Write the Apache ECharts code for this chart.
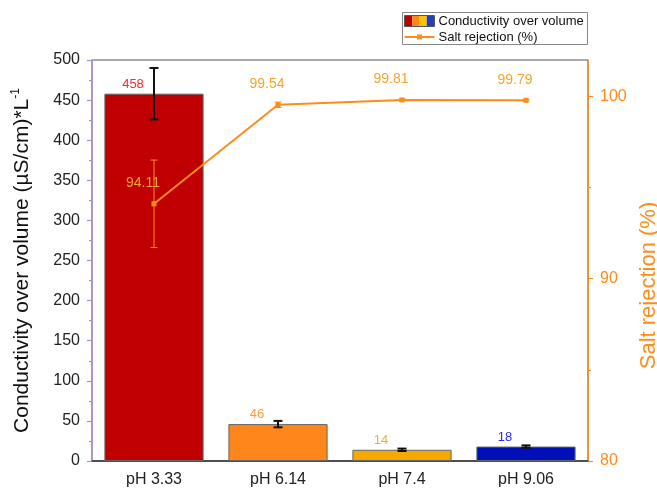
<!DOCTYPE html>
<html>
<head>
<meta charset="utf-8">
<style>
  html, body { margin: 0; padding: 0; background: #fff; }
  #chart { width: 657px; height: 488px; }
</style>
<script src="https://cdn.jsdelivr.net/npm/echarts@6/dist/echarts.min.js"></script>
</head>
<body>
<div id="chart"></div>
<script>
// Samples (pH of feed solution)
const categories = ['pH 3.33', 'pH 6.14', 'pH 7.4', 'pH 9.06'];

// Conductivity over volume, (µS/cm)*L^-1, with standard deviation
const conductivity = [458, 46, 14, 18];
const conductivityErr = [32, 4, 1.5, 1.5];

// Salt rejection (%), with standard deviation
const saltRejection = [94.11, 99.54, 99.81, 99.79];
const saltRejectionErr = [2.4, 0.15, 0.05, 0.05];

// Axis tick values
const leftTicks = { min: 0, max: 500, step: 50 };
const rightTicks = [80, 90, 100];

const barColors = ['#c00000', '#ff861a', '#f5a800', '#0010b8'];
const barLabelColors = ['#ff2a2a', '#ff9a3c', '#f7a63a', '#2a2aff'];
const lineColor = '#ff8c1a';
const lineLabelColor = '#f7a330';
const FONT = '"Liberation Sans", Arial, sans-serif';

const chart = echarts.init(document.getElementById('chart'), null, { renderer: 'canvas' });

// Vertical error bar with caps, placed through the axis coordinate system
function errorBar(color, width, capHalf) {
  return function (params, api) {
    const x = api.value(0);
    const v = api.value(1);
    const e = api.value(2);
    const hi = api.coord([x, v + e]);
    const lo = api.coord([x, v - e]);
    const style = { stroke: color, lineWidth: width };
    return {
      type: 'group',
      children: [
        { type: 'line', shape: { x1: hi[0], y1: hi[1], x2: lo[0], y2: lo[1] }, style },
        { type: 'line', shape: { x1: hi[0] - capHalf, y1: hi[1], x2: hi[0] + capHalf, y2: hi[1] }, style },
        { type: 'line', shape: { x1: lo[0] - capHalf, y1: lo[1], x2: lo[0] + capHalf, y2: lo[1] }, style }
      ]
    };
  };
}

const option = {
  animation: false,
  textStyle: { fontFamily: FONT },
  grid: {
    left: 92, right: 69, top: 60, bottom: 27,
    outerBoundsMode: 'none',
    containLabel: false,
    show: true, borderColor: '#555', borderWidth: 1, backgroundColor: 'transparent'
  },
  xAxis: [
    {
      type: 'category',
      data: categories,
      position: 'bottom',
      axisLine: { lineStyle: { color: '#333', width: 1.5 } },
      axisTick: { alignWithLabel: true, length: 6, lineStyle: { color: '#333', width: 1.5 } },
      axisLabel: { color: '#222', fontSize: 16, margin: 11, fontFamily: FONT },
      splitLine: { show: false }
    },
    {
      // boundary ticks between categories
      type: 'category',
      data: categories,
      position: 'bottom',
      axisLine: { show: false },
      axisTick: { alignWithLabel: false, length: 4, lineStyle: { color: '#333', width: 1.5 } },
      axisLabel: { show: false },
      splitLine: { show: false }
    }
  ],
  yAxis: [
    {
      type: 'value',
      min: leftTicks.min, max: leftTicks.max, interval: leftTicks.step,
      name: '{n|Conductivity over volume (µS/cm)*L}{s|-1}',
      nameLocation: 'middle',
      nameGap: 58,
      nameRotate: 90,
      nameTextStyle: {
        rich: {
          n: { fontSize: 21, color: '#111', fontFamily: FONT, lineHeight: 24 },
          s: { fontSize: 12, color: '#111', fontFamily: FONT, lineHeight: 24, verticalAlign: 'top', padding: [0, 0, 10, 0] }
        }
      },
      axisLine: { show: true, lineStyle: { color: '#a892d2', width: 1.5 } },
      axisTick: { show: true, length: 5, lineStyle: { color: '#a892d2', width: 1.2 } },
      minorTick: { show: true, splitNumber: 2, length: 3, lineStyle: { color: '#a892d2', width: 1.2 } },
      axisLabel: { color: '#222', fontSize: 16, margin: 12, fontFamily: FONT },
      splitLine: { show: false }
    },
    {
      type: 'value',
      min: 80, max: 102, interval: 10,
      position: 'right',
      name: 'Salt rejection (%)',
      nameLocation: 'middle',
      nameGap: 46,
      nameRotate: 90,
      nameTextStyle: { color: lineColor, fontSize: 22, fontFamily: FONT, padding: [0, 50, 0, 0] },
      axisLine: { show: true, lineStyle: { color: lineColor, width: 1.5 } },
      axisTick: { show: true, length: 5, customValues: rightTicks, lineStyle: { color: lineColor, width: 1.2 } },
      minorTick: { show: true, splitNumber: 2, length: 3, lineStyle: { color: lineColor, width: 1.2 } },
      axisLabel: { color: lineColor, fontSize: 16, margin: 12, fontFamily: FONT, customValues: rightTicks },
      splitLine: { show: false }
    }
  ],
  series: [
    {
      name: 'Conductivity over volume',
      type: 'bar',
      xAxisIndex: 0,
      yAxisIndex: 0,
      barWidth: '80%',
      data: conductivity.map((v, i) => ({
        value: v,
        itemStyle: { color: barColors[i], borderColor: '#666', borderWidth: 1 },
        label: { color: barLabelColors[i] }
      })),
      label: {
        show: true, position: 'top', offset: [-21, 2],
        fontSize: 13, fontFamily: FONT
      },
      z: 2
    },
    {
      type: 'custom',
      xAxisIndex: 0,
      yAxisIndex: 0,
      renderItem: errorBar('#111', 2, 4.5),
      data: conductivity.map((v, i) => [i, v, conductivityErr[i]]),
      z: 3,
      silent: true
    },
    {
      name: 'Salt rejection (%)',
      type: 'line',
      xAxisIndex: 0,
      yAxisIndex: 1,
      data: saltRejection,
      symbol: 'rect',
      symbolSize: 5,
      itemStyle: { color: lineColor },
      lineStyle: { color: lineColor, width: 2 },
      label: {
        show: true, position: 'top', offset: [-11, -6],
        color: lineLabelColor, fontSize: 14, fontFamily: FONT
      },
      z: 5
    },
    {
      type: 'custom',
      xAxisIndex: 0,
      yAxisIndex: 1,
      renderItem: errorBar(lineColor, 1, 3.5),
      data: saltRejection.map((v, i) => [i, v, saltRejectionErr[i]]),
      z: 4,
      silent: true
    }
  ],
  graphic: [
    {
      type: 'group',
      left: 402, top: 12,
      children: [
        { type: 'rect', shape: { x: 0, y: 0, width: 185, height: 32 }, style: { fill: '#fff', stroke: '#888', lineWidth: 1 } },
        { type: 'rect', shape: { x: 2, y: 3, width: 30, height: 11 }, style: { fill: '#fff', stroke: '#555', lineWidth: 1 } },
        { type: 'rect', shape: { x: 2.5, y: 3.5, width: 7.25, height: 10 }, style: { fill: barColors[0] } },
        { type: 'rect', shape: { x: 9.75, y: 3.5, width: 7.25, height: 10 }, style: { fill: barColors[1] } },
        { type: 'rect', shape: { x: 17, y: 3.5, width: 7.25, height: 10 }, style: { fill: '#ffc000' } },
        { type: 'rect', shape: { x: 24.25, y: 3.5, width: 7.25, height: 10 }, style: { fill: '#2040c0' } },
        { type: 'text', x: 36, y: 8.5, style: { text: 'Conductivity over volume', fill: '#111', font: '13px ' + FONT, textVerticalAlign: 'middle' } },
        { type: 'line', shape: { x1: 2, y1: 24.5, x2: 32, y2: 24.5 }, style: { stroke: lineColor, lineWidth: 2 } },
        { type: 'rect', shape: { x: 14.5, y: 22, width: 5, height: 5 }, style: { fill: lineColor } },
        { type: 'text', x: 36, y: 24.5, style: { text: 'Salt rejection (%)', fill: '#111', font: '13px ' + FONT, textVerticalAlign: 'middle' } }
      ]
    }
  ]
};

chart.setOption(option);
</script>
</body>
</html>
